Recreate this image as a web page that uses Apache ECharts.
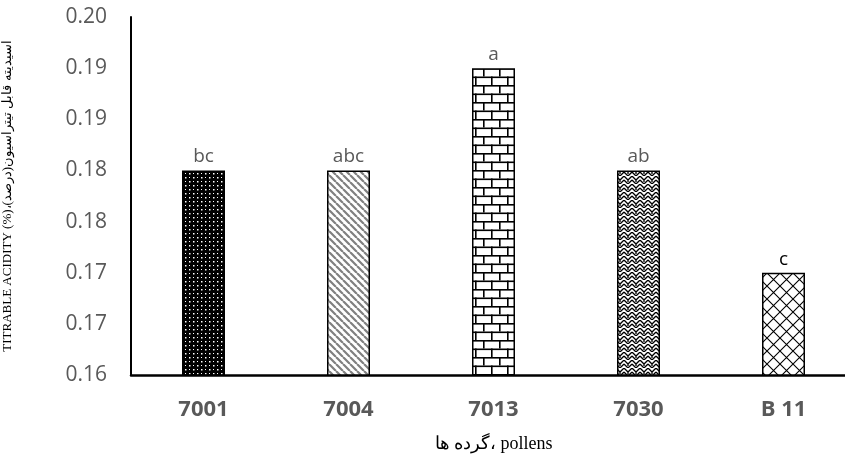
<!DOCTYPE html>
<html>
<head>
<meta charset="utf-8">
<script src="https://cdn.jsdelivr.net/npm/echarts@6/dist/echarts.min.js"></script>
<style>
  html, body { margin: 0; padding: 0; background: #fff; }
  #chart { width: 845px; height: 463px; }
</style>
</head>
<body>
<div id="chart"></div>
<script>
const categories = ['7001', '7004', '7013', '7030', 'B 11']
const acidity = [0.180, 0.180, 0.190, 0.180, 0.170]
const letters = ['bc', 'abc', 'a', 'ab', 'c']
const yTickLabels = ['0.16', '0.17', '0.17', '0.18', '0.18', '0.19', '0.19', '0.20']

// small canvas tiles used as bar fills
function tile(w, h, draw) {
  const c = document.createElement('canvas')
  c.width = w
  c.height = h
  const ctx = c.getContext('2d')
  draw(ctx)
  return { image: c, repeat: 'repeat' }
}

const dots = tile(8, 8, ctx => {
  ctx.fillStyle = '#000'
  ctx.fillRect(0, 0, 8, 8)
  ctx.fillStyle = '#fff'
  ctx.fillRect(1, 1, 1.5, 1.5)
  ctx.fillRect(5, 5, 1.5, 1.5)
  ctx.fillRect(5, 1, 1, 1)
  ctx.fillRect(1, 5, 1, 1)
})

const stripes = tile(7, 7, ctx => {
  ctx.fillStyle = '#fff'
  ctx.fillRect(0, 0, 7, 7)
  ctx.strokeStyle = '#808080'
  ctx.lineWidth = 2.2
  ctx.beginPath()
  for (let k = -7; k <= 14; k += 7) {
    ctx.moveTo(k, 0)
    ctx.lineTo(k + 7, 7)
  }
  ctx.stroke()
})

const bricks = tile(16, 17, ctx => {
  ctx.fillStyle = '#fff'
  ctx.fillRect(0, 0, 16, 17)
  ctx.fillStyle = '#000'
  ctx.fillRect(0, 0, 16, 1.6)
  ctx.fillRect(0, 8.5, 16, 1.6)
  ctx.fillRect(3, 0, 1.6, 8.5)
  ctx.fillRect(11, 8.5, 1.6, 8.5)
})

const zigzag = tile(8, 8, ctx => {
  ctx.fillStyle = '#fff'
  ctx.fillRect(0, 0, 8, 8)
  ctx.strokeStyle = '#000'
  ctx.lineWidth = 1.3
  ctx.beginPath()
  ctx.moveTo(0, 0)
  ctx.lineTo(4, 4)
  ctx.lineTo(8, 0)
  ctx.moveTo(0, 4)
  ctx.lineTo(4, 8)
  ctx.lineTo(8, 4)
  ctx.moveTo(4, 4)
  ctx.lineTo(4, 6)
  ctx.stroke()
})

const lattice = tile(13, 13, ctx => {
  ctx.fillStyle = '#fff'
  ctx.fillRect(0, 0, 13, 13)
  ctx.strokeStyle = '#000'
  ctx.lineWidth = 1.1
  ctx.beginPath()
  ctx.moveTo(0, 0)
  ctx.lineTo(13, 13)
  ctx.moveTo(13, 0)
  ctx.lineTo(0, 13)
  ctx.stroke()
})

const fills = [dots, stripes, bricks, zigzag, lattice]
const letterColors = ['#595959', '#595959', '#595959', '#595959', '#000']

const chart = echarts.init(document.getElementById('chart'))
const option = {
  animation: false,
  backgroundColor: '#fff',
  grid: {
    left: 131,
    top: 17,
    bottom: 88,
    width: 725,
    outerBoundsMode: 'none'
  },
  xAxis: {
    type: 'category',
    data: categories,
    name: 'گرده ها، pollens',
    nameLocation: 'middle',
    nameGap: 60,
    nameTextStyle: {
      fontFamily: 'Liberation Serif',
      fontSize: 18,
      color: '#000'
    },
    axisLine: { lineStyle: { color: '#000', width: 2.5 } },
    axisTick: { show: false },
    axisLabel: {
      margin: 24,
      fontFamily: 'Open Sans',
      fontWeight: 'bold',
      fontSize: 22,
      color: '#595959'
    }
  },
  yAxis: {
    type: 'value',
    min: 0.16,
    max: 0.195,
    interval: 0.005,
    name: 'TITRABLE ACIDITY (%)،اسیدیته قابل تیتراسیون(درصد)',
    nameLocation: 'middle',
    nameRotate: 90,
    nameGap: 117,
    nameTextStyle: {
      fontFamily: 'Liberation Serif',
      fontSize: 13,
      color: '#000'
    },
    axisLine: { show: true, lineStyle: { color: '#000', width: 2 } },
    axisTick: { show: false },
    splitLine: { show: false },
    axisLabel: {
      margin: 24,
      fontFamily: 'Open Sans',
      fontSize: 21,
      color: '#595959',
      formatter: (v, i) => yTickLabels[i]
    }
  },
  series: [
    {
      type: 'bar',
      barWidth: 43,
      data: acidity.map((v, i) => ({
        value: v,
        itemStyle: { color: fills[i] },
        label: { color: letterColors[i] }
      })),
      itemStyle: { borderColor: '#000', borderWidth: 1.5 },
      label: {
        show: true,
        position: 'top',
        distance: 4,
        fontFamily: 'Open Sans',
        fontSize: 19,
        formatter: p => letters[p.dataIndex]
      }
    }
  ]
}
chart.setOption(option)
</script>
</body>
</html>
